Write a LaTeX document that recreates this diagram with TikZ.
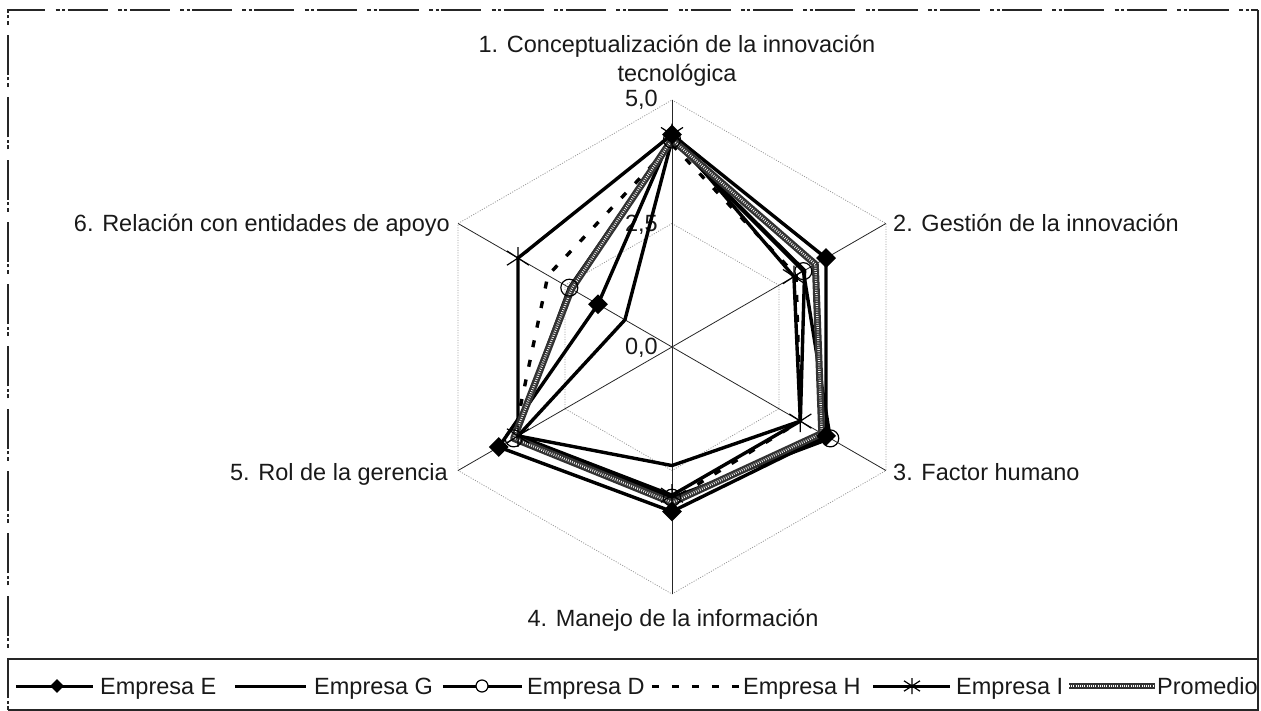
\documentclass[tikz,border=0pt]{standalone}
\usepackage{fontspec}
\setmainfont{Liberation Sans}
\usetikzlibrary{shapes.geometric}

\newcommand{\etiq}{\fontsize{23.5}{29}\selectfont}
% asterisco de Excel: aspa + barra vertical
\newcommand{\asterisco}[2][11pt]{%
  \draw[black, line width=1.2pt] (#2) +(-#1,-0.65*#1) -- +(#1,0.65*#1)
    +(-#1,0.65*#1) -- +(#1,-0.65*#1) +(0,-#1) -- +(0,#1);}

\tikzset{
  eje/.style={black!85, line width=0.8pt},
  rejilla/.style={gray!80, line width=0.8pt, dash pattern=on 1pt off 1.5pt},
  serie/.style={black, line width=3.4pt, line join=round},
  rayas/.style={serie, dash pattern=on 7pt off 13pt},
  promedio/.style={black!80, line width=7pt, line join=round},
  puntos/.style={white, line width=2.4pt, dash pattern=on 0.7pt off 1.5pt, line join=round},
  rombo/.style={diamond, fill=black, inner sep=0pt, minimum size=20pt},
  anillo/.style={circle, draw=black, line width=1.2pt, inner sep=0pt, minimum size=17pt},
  texto/.style={inner sep=0pt, text=black!90},
  marco/.style={black!85, line width=1.2pt},
}

\begin{document}
\begin{tikzpicture}[x=49.4pt, y=49.4pt, font=\etiq]
  \useasboundingbox (-672pt,-364pt) rectangle (589pt,347pt);
  % marco del grafico
  \draw[marco, dash pattern=on 4pt off 2.5pt on 3pt off 2.5pt on 40pt off 10.3pt]
    (-664pt,-363pt) -- (-664pt,337pt) -- (586pt,337pt);
  \draw[marco] (586pt,337pt) -- (586pt,-363pt) -- (-664pt,-363pt);
  \draw[marco] (-664pt,-312pt) -- (586pt,-312pt);

  % rejilla y ejes
  \foreach \r in {2.5,5}
    \draw[rejilla] (90:\r) -- (30:\r) -- (-30:\r) -- (-90:\r) -- (-150:\r) -- (150:\r) -- cycle;
  \foreach \a in {90,30,...,-210}
    \draw[eje] (0,0) -- (\a:5);
  \node[texto, anchor=base east] (t50) at (-14pt,240pt) {5,0};
  \node[texto, anchor=base east] (t25) at (-14pt,115.6pt) {2,5};
  \node[texto, anchor=base east] (t00) at (-14pt,-7.4pt) {0,0};

  % etiquetas de las dimensiones
  \node[texto, align=center] (dim1) at (5pt,286.3pt) {1. Conceptualización de la innovación\\tecnológica};
  \node[texto, anchor=base west] (dim2) at (221pt,115.6pt) {2. Gestión de la innovación};
  \node[texto, anchor=base west] (dim3) at (221pt,-133.4pt) {3. Factor humano};
  \node[texto, anchor=base] (dim4) at (1pt,-279.4pt) {4. Manejo de la información};
  \node[texto, anchor=base east] (dim5) at (-224pt,-133.4pt) {5. Rol de la gerencia};
  \node[texto, anchor=base east] (dim6) at (-222pt,115.6pt) {6. Relación con entidades de apoyo};

  % datos (eje 1 arriba, sentido horario)
  \foreach \v [count=\i] in {4.3,3.6,3.6,3.33,4.05,1.73}
    \coordinate (E\i) at ({150-60*\i}:\v);
  \foreach \v [count=\i] in {4.2,3.1,3.0,2.4,3.6,1.1}
    \coordinate (G\i) at ({150-60*\i}:\v);
  \foreach \v [count=\i] in {4.2,3.07,3.7,3.05,3.7,2.4}
    \coordinate (D\i) at ({150-60*\i}:\v);
  \foreach \v [count=\i] in {4.1,2.9,3.0,3.1,3.7,2.9}
    \coordinate (H\i) at ({150-60*\i}:\v);
  \foreach \v [count=\i] in {4.3,2.85,3.0,3.0,3.6,3.6}
    \coordinate (I\i) at ({150-60*\i}:\v);
  \foreach \v [count=\i] in {4.2,3.35,3.5,3.15,3.7,2.35}
    \coordinate (P\i) at ({150-60*\i}:\v);

  \draw[serie] (E1) -- (E2) -- (E3) -- (E4) -- (E5) -- (E6) -- cycle;
  \draw[serie] (G1) -- (G2) -- (G3) -- (G4) -- (G5) -- (G6) -- cycle;
  \draw[serie] (D1) -- (D2) -- (D3) -- (D4) -- (D5) -- (D6) -- cycle;
  \draw[rayas] (H1) -- (H2) -- (H3) -- (H4) -- (H5) -- (H6) -- cycle;
  \draw[serie] (I1) -- (I2) -- (I3) -- (I4) -- (I5) -- (I6) -- cycle;
  \draw[promedio] (P1) -- (P2) -- (P3) -- (P4) -- (P5) -- (P6) -- cycle;
  \draw[puntos] (P1) -- (P2) -- (P3) -- (P4) -- (P5) -- (P6) -- cycle;

  \foreach \i in {1,...,6} {
    \node[rombo] (mE\i) at (E\i) {};
    \node[anillo] (mD\i) at (D\i) {};
    \asterisco{I\i}
  }

  % leyenda
  \draw[serie, line width=3pt] (-656pt,-339pt) -- (-579pt,-339pt);
  \node[rombo, minimum size=14pt] (leyE) at (-615pt,-339pt) {};
  \node[texto, anchor=base west] (txtE) at (-572pt,-347.4pt) {Empresa E};
  \draw[serie, line width=3pt] (-437pt,-339pt) -- (-366pt,-339pt);
  \node[texto, anchor=base west] (txtG) at (-358pt,-347.4pt) {Empresa G};
  \draw[serie, line width=3pt] (-229pt,-339pt) -- (-150pt,-339pt);
  \node[anillo, fill=white, minimum size=12pt] (leyD) at (-190pt,-339pt) {};
  \node[texto, anchor=base west] (txtD) at (-145pt,-347.4pt) {Empresa D};
  \draw[rayas, line width=3pt] (-20pt,-339pt) -- (67pt,-339pt);
  \node[texto, anchor=base west] (txtH) at (71pt,-347.4pt) {Empresa H};
  \draw[serie, line width=3pt] (201pt,-339pt) -- (278pt,-339pt);
  \coordinate (leyI) at (240pt,-339pt);
  \asterisco[8pt]{leyI}
  \node[texto, anchor=base west] (txtI) at (284pt,-347.4pt) {Empresa I};
  \draw[promedio, line width=6pt] (397pt,-339pt) -- (483pt,-339pt);
  \draw[puntos, line width=2pt] (397pt,-339pt) -- (483pt,-339pt);
  \node[texto, anchor=base west] (txtP) at (485pt,-347.4pt) {Promedio};
\end{tikzpicture}
\end{document}
